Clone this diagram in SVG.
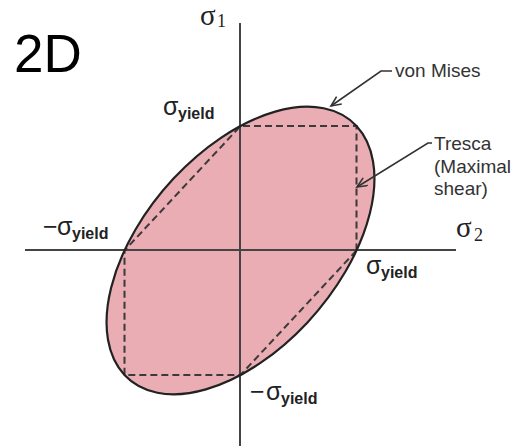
<svg xmlns="http://www.w3.org/2000/svg" width="526" height="446" viewBox="0 0 526 446">
<style>
.axis{stroke:#444;stroke-width:2;fill:none}
.dash{stroke:#3a3a3a;stroke-width:2;stroke-dasharray:7 4;fill:none}
.lead{stroke:#333;stroke-width:1.6;fill:none}
.lbl{font-family:"Liberation Sans",Arial,sans-serif;fill:#333;font-size:19px}
.sig{font-family:"Liberation Sans",Arial,sans-serif;fill:#222;font-size:25px}
.sub{font-family:"Liberation Sans",Arial,sans-serif;fill:#222;font-size:16px;font-weight:bold}
.ax{font-family:"Liberation Serif","Times New Roman",serif;fill:#222;font-size:29px}
.axsub{font-family:"Liberation Serif","Times New Roman",serif;fill:#222;font-size:18px}
</style>
<defs>
<marker id="arr" markerUnits="userSpaceOnUse" markerWidth="14" markerHeight="12" refX="11" refY="5" orient="auto">
<path d="M1,0.5 L11,5 L1,9.5" fill="none" stroke="#333" stroke-width="1.6"/>
</marker>
</defs>
<rect width="526" height="446" fill="#fff"/>
<g id="vonmises-fill">
<g transform="translate(240.5,250.5) scale(116,-124.5)">
<ellipse cx="0" cy="0" rx="1.41421" ry="0.8165" transform="rotate(45)" fill="#e9adb3" stroke="none"/>
</g>
</g>
<g id="tresca">
<polygon class="dash" points="356.5,250.5 356.5,126 240.5,126 124.5,250.5 124.5,375 240.5,375"/>
</g>
<g id="axes">
<line class="axis" x1="240" y1="23" x2="240" y2="446"/>
<line class="axis" x1="25" y1="250" x2="456" y2="250"/>
</g>
<g id="vonmises">
<g transform="translate(240.5,250.5) scale(116,-124.5)">
<ellipse cx="0" cy="0" rx="1.41421" ry="0.8165" transform="rotate(45)" fill="none" stroke="#222" stroke-width="2.2" vector-effect="non-scaling-stroke"/>
</g>
</g>
<g id="connectors">
<polyline class="lead" points="392,71 381,71 331,106" marker-end="url(#arr)"/>
<polyline class="lead" points="432,143 428,143 357,187" marker-end="url(#arr)"/>
</g>
<g id="title">
<text x="14" y="72" font-family="'Liberation Sans',Arial,sans-serif" font-size="53" fill="#000">2D</text>
</g>
<g id="label-sigma1">
<text x="200" y="25"><tspan class="ax">σ</tspan><tspan class="axsub" x="217" y="27">1</tspan></text>
</g>
<g id="label-sigma2">
<text x="456" y="237"><tspan class="ax">σ</tspan><tspan class="axsub" x="474" y="241">2</tspan></text>
</g>
<g id="label-top">
<text x="163" y="115"><tspan class="sig">σ</tspan><tspan class="sub" x="178" y="119">yield</tspan></text>
</g>
<g id="label-left">
<text x="43" y="235"><tspan class="sig">−</tspan><tspan class="sig" x="57">σ</tspan><tspan class="sub" x="72" y="239">yield</tspan></text>
</g>
<g id="label-right">
<text x="366" y="274"><tspan class="sig">σ</tspan><tspan class="sub" x="381" y="278">yield</tspan></text>
</g>
<g id="label-bottom">
<text x="250" y="400"><tspan class="sig">−</tspan><tspan class="sig" x="266">σ</tspan><tspan class="sub" x="281" y="404">yield</tspan></text>
</g>
<g id="label-vonmises">
<text class="lbl" x="395" y="77">von Mises</text>
</g>
<g id="label-tresca">
<text class="lbl" x="434" y="150">Tresca</text>
<text class="lbl" x="434" y="173">(Maximal</text>
<text class="lbl" x="434" y="195">shear)</text>
</g>
</svg>
